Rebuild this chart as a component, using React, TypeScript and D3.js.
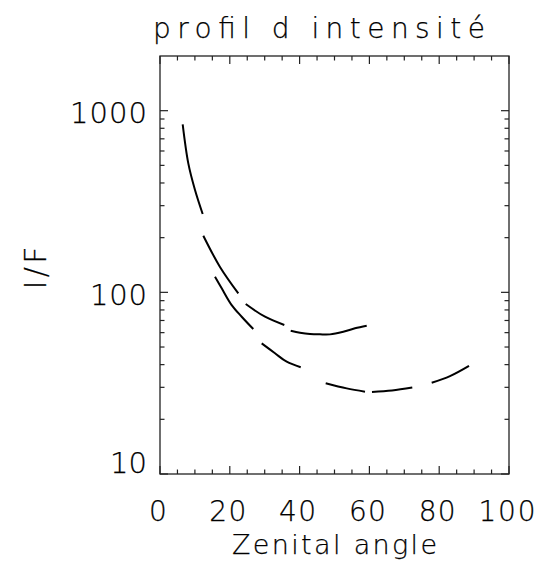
import React from "react";
import * as d3 from "d3";

// ---- data ----
const title = "profil d intensité";
const xLabel = "Zenital angle";
const yLabel = "I/F";

const xDomain = [0, 100];
const yDomain = [10, 2000];
const xTickValues = [0, 20, 40, 60, 80, 100];
const yTickValues = [10, 100, 1000];

// upper curve
const curveA_x = [6.5, 8.11, 10.03, 12.23, 12.41, 17.19, 22.44, 24.56, 30.09, 35.62, 37.45, 40.11, 42.98, 45.85, 48.71, 52.52, 55.87, 59.23];
const curveA_y = [841, 513, 366, 270, 205, 138, 98.7, 86.2, 73.4, 66.1, 61.5, 60.0, 59.0, 58.7, 58.7, 60.7, 63.4, 65.5];
// index where each visible dash starts
const curveA_dashStarts = [0, 4, 7, 10];

// lower curve
const curveB_x = [15.76, 17.68, 20.54, 23.41, 26.73, 29.14, 32.95, 36.3, 40.32, 47.48, 53.5, 58.74, 60.74, 66.48, 72.29, 77.85, 83.09, 88.54];
const curveB_y = [121.8, 105.2, 85.1, 73.4, 62.8, 52.4, 46.2, 41.5, 38.7, 31.6, 29.6, 28.4, 28.3, 28.8, 29.9, 31.8, 34.6, 39.4];
const curveB_dashStarts = [0, 5, 9, 12, 15];

// ---- layout ----
const W = 539;
const H = 571;
const M = { left: 160, right: 509, top: 56, bottom: 474 };
const FONT = "'DejaVu Sans', sans-serif";

function pieces(xs: number[], ys: number[], starts: number[]) {
  const out: [number, number][][] = [];
  for (let i = 0; i < starts.length; i++) {
    const a = starts[i];
    const b = i + 1 < starts.length ? starts[i + 1] : xs.length;
    const seg: [number, number][] = [];
    for (let j = a; j < b; j++) seg.push([xs[j], ys[j]]);
    out.push(seg);
  }
  return out;
}

const digitWidth = (s: string) => 20 * s.length - 3;

export default function App() {
  const x = d3.scaleLinear().domain(xDomain).range([M.left, M.right]);
  const y = d3.scaleLog().domain(yDomain).range([M.bottom, M.top]);

  const xMinor = d3.range(xDomain[0], xDomain[1] + 0.001, 5).filter((v) => !xTickValues.includes(v));
  const yMinor: number[] = [];
  for (const dec of [10, 100, 1000]) {
    for (let k = 2; k <= 9; k++) {
      const v = dec * k;
      if (v < yDomain[1]) yMinor.push(v);
    }
  }

  const line = d3
    .line<[number, number]>()
    .x((d) => x(d[0]))
    .y((d) => y(d[1]))
    .curve(d3.curveCatmullRom.alpha(0.5));

  const segsA = pieces(curveA_x, curveA_y, curveA_dashStarts);
  const segsB = pieces(curveB_x, curveB_y, curveB_dashStarts);

  const axisColor = "#222";
  const majorLen = 8;
  const minorLen = 4.5;
  const txt = { fill: "#000", stroke: "#000", strokeWidth: 0.25 };

  return (
    <svg
      width={W}
      height={H}
      style={{ position: "absolute", left: 0, top: 0, background: "#fff" }}
      fontFamily={FONT}
      fontWeight={200}
    >
      <rect x={0} y={0} width={W} height={H} fill="#fff" />
      {/* frame */}
      <rect
        x={M.left}
        y={M.top}
        width={M.right - M.left}
        height={M.bottom - M.top}
        fill="none"
        stroke={axisColor}
        strokeWidth={1.3}
      />
      {/* x ticks bottom & top */}
      {xTickValues.map((v) => (
        <g key={"xM" + v}>
          <line x1={x(v)} x2={x(v)} y1={M.bottom} y2={M.bottom - majorLen} stroke={axisColor} strokeWidth={1.2} />
          <line x1={x(v)} x2={x(v)} y1={M.top} y2={M.top + majorLen} stroke={axisColor} strokeWidth={1.2} />
        </g>
      ))}
      {xMinor.map((v) => (
        <g key={"xm" + v}>
          <line x1={x(v)} x2={x(v)} y1={M.bottom} y2={M.bottom - minorLen} stroke={axisColor} strokeWidth={1.2} />
          <line x1={x(v)} x2={x(v)} y1={M.top} y2={M.top + minorLen} stroke={axisColor} strokeWidth={1.2} />
        </g>
      ))}
      {/* y ticks left & right */}
      {yTickValues.map((v) => (
        <g key={"yM" + v}>
          <line x1={M.left} x2={M.left + majorLen} y1={y(v)} y2={y(v)} stroke={axisColor} strokeWidth={1.2} />
          <line x1={M.right} x2={M.right - majorLen} y1={y(v)} y2={y(v)} stroke={axisColor} strokeWidth={1.2} />
        </g>
      ))}
      {yMinor.map((v) => (
        <g key={"ym" + v}>
          <line x1={M.left} x2={M.left + minorLen} y1={y(v)} y2={y(v)} stroke={axisColor} strokeWidth={1.2} />
          <line x1={M.right} x2={M.right - minorLen} y1={y(v)} y2={y(v)} stroke={axisColor} strokeWidth={1.2} />
        </g>
      ))}
      {/* x tick labels */}
      {xTickValues.map((v) => (
        <text
          key={"xl" + v}
          x={x(v) - 2}
          y={M.bottom + 47}
          fontSize={28}
          textAnchor="middle"
          textLength={digitWidth(String(v))}
          lengthAdjust="spacing"
          {...txt}
        >
          {String(v)}
        </text>
      ))}
      {/* y tick labels */}
      {yTickValues.map((v) => (
        <text
          key={"yl" + v}
          x={M.left - 13}
          y={Math.min(y(v) + 12.5, M.bottom - 1)}
          fontSize={29}
          textAnchor="end"
          textLength={digitWidth(String(v))}
          lengthAdjust="spacing"
          {...txt}
        >
          {String(v)}
        </text>
      ))}
      {/* title */}
      <text x={319} y={38} fontSize={28} textAnchor="middle" textLength={332} lengthAdjust="spacing" {...txt}>
        {title}
      </text>
      {/* x label */}
      <text
        x={(M.left + M.right) / 2}
        y={554}
        fontSize={27}
        textAnchor="middle"
        textLength={205}
        lengthAdjust="spacing"
        {...txt}
      >
        {xLabel}
      </text>
      {/* y label */}
      <text
        transform={`translate(46, ${(M.top + M.bottom) / 2 + 3}) rotate(-90)`}
        fontSize={30}
        textAnchor="middle"
        textLength={43}
        lengthAdjust="spacing"
        {...txt}
      >
        {yLabel}
      </text>
      {/* curves */}
      {segsA.map((s, i) => (
        <path key={"a" + i} d={line(s) || ""} fill="none" stroke="#000" strokeWidth={2} strokeLinecap="butt" />
      ))}
      {segsB.map((s, i) => (
        <path key={"b" + i} d={line(s) || ""} fill="none" stroke="#000" strokeWidth={2} strokeLinecap="butt" />
      ))}
    </svg>
  );
}
